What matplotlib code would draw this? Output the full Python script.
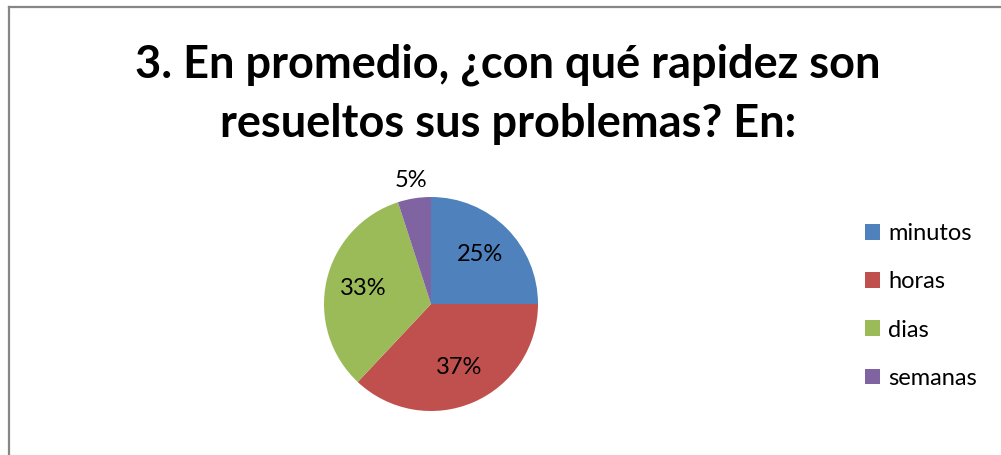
import matplotlib
matplotlib.use("Agg")
import matplotlib.pyplot as plt
from matplotlib.patches import Patch
from matplotlib.lines import Line2D

plt.rcParams['font.family'] = ['Lato', 'DejaVu Sans']

# data
categories = ["minutos", "horas", "dias", "semanas"]
values = [25, 37, 33, 5]
colors = ["#4F81BD", "#C0504D", "#9BBB59", "#8064A2"]
title = "3. En promedio, ¿con qué rapidez son\nresueltos sus problemas? En:"

W, H = 1001, 455
fig = plt.figure(figsize=(W / 100, H / 100), dpi=100)

# partial chart border (top and left edges visible)
fig.add_artist(Line2D([9 / W, 1], [1 - 7 / H, 1 - 7 / H], color="#868686", lw=1.6))
fig.add_artist(Line2D([9 / W, 9 / W], [0, 1 - 7 / H], color="#868686", lw=1.6))

fig.text(508 / W, 1 - 94.5 / H, title, ha="center", va="center",
         fontsize=32.5, fontweight="bold", linespacing=1.5)

# pie axes: center (431, 304) px, radius 107 px
cx, cy, r = 431, 304, 107
ax = fig.add_axes([(cx - r) / W, (H - cy - r) / H, 2 * r / W, 2 * r / H])
wedges, texts, autotexts = ax.pie(values, colors=colors, startangle=90, counterclock=False,
                                  autopct="%1.0f%%", pctdistance=0.65,
                                  textprops={"fontsize": 17},
                                  wedgeprops={"linewidth": 0})
# small slice label sits outside the pie
x, y = autotexts[3].get_position()
autotexts[3].set_position((x / 0.65 * 1.17, y / 0.65 * 1.17))
ax.set_xlim(-1, 1)
ax.set_ylim(-1, 1)
ax.set_aspect("equal")
ax.axis("off")

handles = [Patch(facecolor=c, edgecolor="none") for c in colors]
fig.legend(handles, categories, loc="center left", bbox_to_anchor=(865 / W, 1 - 306 / H),
           frameon=False, fontsize=17, handlelength=0.64, handleheight=0.64,
           handletextpad=0.35, labelspacing=1.15, borderpad=0, borderaxespad=0)

plt.savefig("out.png", dpi=100)
